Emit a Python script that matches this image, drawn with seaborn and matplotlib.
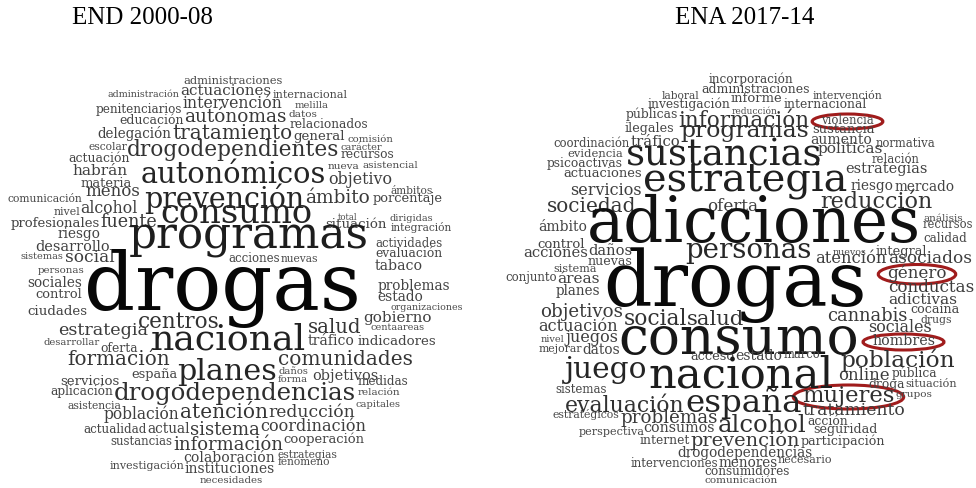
import numpy as np
import matplotlib
matplotlib.use("Agg")
import matplotlib.pyplot as plt
from matplotlib.patches import Ellipse
import seaborn as sns

# ---------------- END 2000-08 (left cloud) ----------------
end_words = ["administraciones", "administración", "actuaciones", "internacional", "intervención",
             "melilla", "penitenciarios", "datos", "autónomas", "educación",
             "relacionados", "delegación", "tratamiento", "general", "comisión",
             "escolar", "carácter", "drogodependientes", "recursos", "actuación",
             "nueva", "asistencial", "habrán", "autonómicos", "objetivo",
             "materia", "ámbitos", "menos", "comunicación", "ámbito",
             "porcentaje", "prevención", "alcohol", "nivel", "total",
             "dirigidas", "consumo", "profesionales", "fuente", "situación",
             "integración", "riesgo", "actividades", "programas", "desarrollo",
             "evaluación", "sistemas", "social", "acciones", "nuevas",
             "tabaco", "personas", "sociales", "problemas", "control",
             "estado", "drogas", "organizaciones", "ciudades", "gobierno",
             "centros", "centaareas", "salud", "estrategia", "desarrollar",
             "tráfico", "indicadores", "nacional", "oferta", "formación",
             "comunidades", "daños", "españa", "planes", "objetivos",
             "forma", "medidas", "servicios", "relación", "aplicación",
             "drogodependencias", "capitales", "asistencia", "reducción", "población",
             "atención", "coordinación", "actualidad", "actual", "sistema",
             "cooperación", "sustancias", "información", "estrategias", "colaboración",
             "fenómeno", "investigación", "instituciones", "necesidades"]
end_x0 = [183, 107, 180, 273, 182,
          295, 95, 288, 184, 119,
          289, 97, 172, 293, 347,
          88, 340, 127, 340, 68,
          328, 362, 72, 140, 328,
          80, 390, 85, 7, 305,
          372, 143, 80, 53, 338,
          389, 160, 10, 100, 325,
          390, 57, 375, 128, 35,
          375, 20, 65, 228, 280,
          375, 38, 27, 377, 35,
          377, 83, 390, 27, 363,
          138, 370, 308, 58, 43,
          308, 357, 150, 100, 67,
          277, 278, 131, 177, 312,
          278, 357, 60, 357, 50,
          113, 356, 67, 268, 103,
          180, 260, 83, 147, 190,
          283, 110, 173, 277, 183,
          277, 110, 185, 199]
end_x1 = [283, 180, 272, 348, 283,
          329, 182, 317, 287, 184,
          368, 172, 292, 345, 393,
          127, 382, 340, 394, 130,
          360, 418, 128, 327, 392,
          132, 433, 140, 83, 370,
          443, 305, 138, 80, 358,
          433, 313, 100, 157, 387,
          452, 100, 442, 370, 110,
          443, 63, 115, 280, 318,
          423, 85, 82, 450, 82,
          423, 362, 463, 88, 432,
          220, 425, 362, 148, 100,
          355, 437, 307, 138, 170,
          413, 308, 178, 277, 378,
          308, 408, 120, 400, 113,
          357, 401, 122, 355, 180,
          268, 367, 147, 190, 260,
          365, 173, 283, 337, 275,
          330, 185, 275, 263]
end_base = [84, 97, 95, 98, 108,
            108, 113, 117, 122, 124,
            128, 138, 139, 140, 142,
            150, 150, 156, 158, 162,
            169, 168, 175, 183, 184,
            187, 194, 196, 202, 203,
            202, 208, 213, 215, 220,
            221, 223, 227, 227, 228,
            231, 238, 247, 248, 251,
            257, 259, 262, 262, 262,
            270, 273, 287, 290, 298,
            301, 310, 310, 315, 322,
            328, 330, 333, 335, 345,
            345, 345, 350, 352, 365,
            365, 374, 378, 380, 380,
            382, 385, 385, 395, 395,
            400, 407, 409, 417, 419,
            418, 431, 433, 433, 435,
            443, 445, 450, 458, 462,
            465, 469, 473, 483]

# ---------------- ENA 2017-14 (right cloud) ----------------
ena_words = ["incorporación", "administraciones", "laboral", "intervención", "informe",
             "investigación", "internacional", "reducción", "públicas", "violencia",
             "información", "ilegales", "sustancia", "programas", "aumento",
             "normativa", "coordinación", "tráfico", "políticas", "evidencia",
             "relación", "sustancias", "psicoactivas", "estrategias", "actuaciones",
             "riesgo", "mercado", "estrategia", "servicios", "reducción",
             "oferta", "sociedad", "análisis", "recursos", "ámbito",
             "adicciones", "calidad", "control", "daños", "nuevos",
             "integral", "acciones", "personas", "atención", "asociados",
             "nuevas", "sistema", "género", "conjunto", "áreas",
             "conductas", "planes", "adictivas", "drogas", "cocaína",
             "objetivos", "cannabis", "drugs", "social", "salud",
             "actuación", "sociales", "nivel", "juegos", "hombres",
             "consumo", "mejorar", "datos", "marco", "acceso",
             "estado", "población", "pública", "juego", "online",
             "nacional", "situación", "droga", "sistemas", "grupos",
             "mujeres", "evaluación", "españa", "tratamiento", "estratégicos",
             "problemas", "acción", "alcohol", "consumos", "seguridad",
             "perspectiva", "internet", "participación", "prevención", "drogodependencias",
             "necesario", "intervenciones", "menores", "consumidores", "comunicación"]
ena_x0 = [708, 701, 662, 812, 730,
          647, 783, 732, 625, 821,
          678, 624, 812, 680, 810,
          875, 553, 630, 817, 567,
          872, 625, 547, 845, 563,
          850, 894, 642, 570, 820,
          707, 547, 923, 922, 538,
          585, 923, 537, 588, 833,
          875, 523, 685, 815, 888,
          588, 553, 887, 505, 557,
          888, 555, 888, 602, 910,
          540, 827, 920, 623, 687,
          538, 868, 540, 565, 872,
          618, 538, 582, 783, 690,
          735, 840, 892, 565, 838,
          648, 905, 868, 555, 895,
          802, 565, 685, 802, 552,
          620, 807, 718, 643, 813,
          578, 640, 800, 690, 677,
          777, 630, 718, 704, 704]
ena_x1 = [793, 810, 700, 882, 782,
          730, 867, 778, 678, 874,
          810, 674, 875, 810, 872,
          935, 630, 680, 883, 623,
          920, 823, 623, 927, 643,
          893, 955, 848, 642, 933,
          758, 637, 963, 973, 587,
          922, 967, 585, 632, 867,
          927, 588, 812, 887, 972,
          633, 597, 947, 557, 600,
          975, 600, 958, 868, 960,
          623, 908, 952, 687, 745,
          618, 932, 564, 618, 935,
          860, 582, 620, 820, 735,
          782, 955, 938, 648, 890,
          835, 957, 905, 607, 932,
          895, 685, 802, 905, 620,
          718, 848, 807, 715, 878,
          645, 690, 885, 800, 813,
          832, 718, 778, 790, 778]
ena_base = [83, 93, 99, 99, 102,
            108, 108, 114, 118, 124,
            127, 132, 133, 137, 144,
            147, 147, 146, 153, 157,
            163, 165, 167, 173, 177,
            190, 191, 192, 195, 208,
            211, 212, 221, 228, 231,
            242, 242, 248, 255, 255,
            255, 257, 258, 263, 263,
            265, 272, 278, 281, 283,
            292, 295, 304, 306, 313,
            317, 321, 323, 325, 325,
            331, 332, 342, 342, 345,
            354, 352, 354, 358, 360,
            360, 367, 377, 378, 380,
            387, 387, 388, 393, 397,
            402, 412, 412, 415, 418,
            423, 425, 432, 432, 433,
            435, 444, 445, 446, 457,
            463, 467, 467, 475, 483]

# words circled in red in the 2017 cloud
ena_circled = ["violencia", "género", "hombres", "mujeres"]

titles = ["END 2000-08", "ENA 2017-14"]
title_x = [142, 745]

sns.set_theme(style="white")
plt.rcParams["font.family"] = ["DejaVu Serif"]
greys = sns.color_palette("Greys", as_cmap=True)

fig = plt.figure(figsize=(9.76, 4.88), dpi=100)
ax = fig.add_axes([0, 0, 1, 1])
ax.set_xlim(0, 976)
ax.set_ylim(488, 0)
ax.axis("off")
renderer = fig.canvas.get_renderer()


def draw_cloud(words, x0, x1, base, circled=()):
    for w, a, b, y in zip(words, x0, x1, base):
        t = ax.text((a + b) / 2, y, w, fontsize=10, ha="center", va="baseline")
        # scale the font so the word spans the same width as in the original
        wid = t.get_window_extent(renderer).width
        fs = 10 * (b - a) / wid
        t.set_fontsize(fs)
        level = np.interp(fs, [6, 20, 60], [0.76, 0.87, 0.98])
        t.set_color(greys(level))
        if w in circled:
            bb = t.get_window_extent(renderer).transformed(ax.transData.inverted())
            cx = (bb.x0 + bb.x1) / 2
            cy = (bb.y0 + bb.y1) / 2
            ax.add_patch(Ellipse((cx, cy + 1), abs(bb.x1 - bb.x0) + 18,
                                 abs(bb.y1 - bb.y0) + 2, fill=False,
                                 edgecolor="#a01c1c", lw=2.2))


draw_cloud(end_words, end_x0, end_x1, end_base)
draw_cloud(ena_words, ena_x0, ena_x1, ena_base, ena_circled)

for tt, tx in zip(titles, title_x):
    ax.text(tx, 18, tt, fontsize=18, family="Liberation Serif",
            ha="center", va="center", color="black")

fig.savefig("out.png", dpi=100)
